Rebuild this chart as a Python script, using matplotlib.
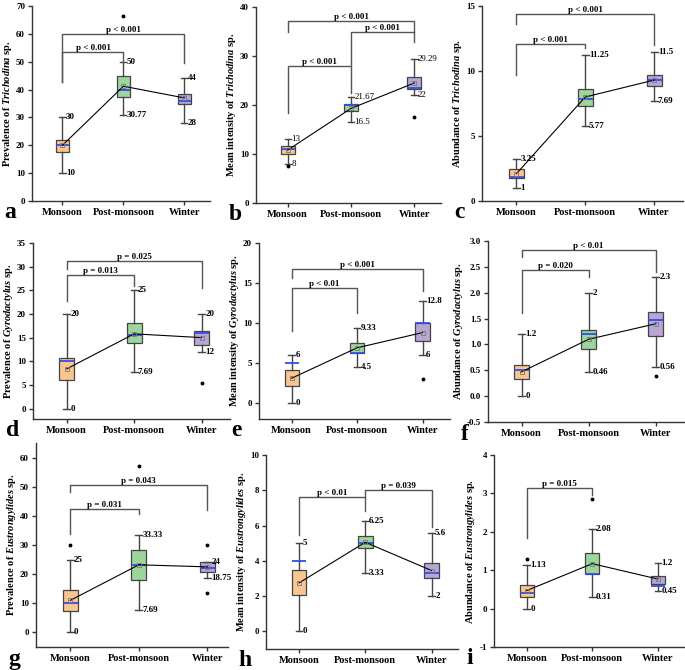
import matplotlib
matplotlib.use("Agg")
from matplotlib import pyplot as plt

plt.rcParams["font.family"] = ["Liberation Serif", "DejaVu Serif"]
plt.rcParams["mathtext.fontset"] = "custom"
plt.rcParams["mathtext.rm"] = "Liberation Serif:bold"
plt.rcParams["mathtext.it"] = "Liberation Serif:bold:italic"
plt.rcParams["axes.unicode_minus"] = False

seasons = ["Monsoon", "Post-monsoon", "Winter"]
box_colors = ["#f9c590", "#9ed59c", "#b7a6d6"]

# each row: whisker low, q1, median, q3, whisker high, mean
a_box = [(10, 17.5, 20, 22, 30, 20), (30.77, 37.5, 40, 45, 50, 41.2), (28, 35, 36, 38.5, 44, 37)]
a_out = [[], [66.5], []]
b_box = [(8, 10, 11, 11.7, 13, 10.8), (16.5, 18.8, 20, 20.2, 21.67, 19.3), (22, 23.3, 23.5, 25.8, 29.29, 24.5)]
b_out = [[7.6], [], [17.5]]
c_box = [(1, 1.8, 1.85, 2.45, 3.25, 2.1), (5.77, 7.3, 7.85, 8.6, 11.25, 8.0), (7.69, 8.85, 9.3, 9.7, 11.5, 9.3)]
c_out = [[], [], []]
d_box = [(0, 6, 10, 10.6, 20, 8.4), (7.69, 13.8, 15.5, 18, 25, 15.8), (12, 13.5, 16, 16.5, 20, 15)]
d_out = [[], [], [5.5]]
e_box = [(0, 2.1, 5, 4.1, 6, 3.1), (4.5, 6.3, 6.3, 7.5, 9.33, 6.9), (6, 7.8, 10, 10, 12.8, 8.8)]
e_out = [[], [], [3]]
f_box = [(0, 0.33, 0.5, 0.6, 1.2, 0.47), (0.46, 0.92, 1.2, 1.28, 2, 1.1), (0.56, 1.17, 1.47, 1.62, 2.3, 1.4)]
f_out = [[], [], [0.38]]
g_box = [(0, 7.3, 10, 14.7, 25, 11), (7.69, 18, 23, 28.3, 33.33, 23.2), (18.75, 20.7, 22, 24, 24, 22.5)]
g_out = [[30], [57], [30, 13.5]]
h_box = [(0, 2.05, 4, 3.5, 5, 2.75), (3.33, 4.75, 5, 5.4, 6.25, 5.05), (2, 3.05, 3.3, 3.9, 5.6, 3.45)]
h_out = [[], [], []]
i_box = [(0, 0.3, 0.4, 0.62, 1.13, 0.47), (0.31, 0.9, 0.9, 1.45, 2.08, 1.17), (0.45, 0.65, 0.6, 0.85, 1.2, 0.77)]
i_out = [[1.3], [2.85], []]

# brackets: (from, to, top, left leg end, right leg end, text)
a_br = [(0, 1, 53.6, 42.8, 50, "p < 0.001"), (0, 2, 60.1, 42.8, 49.5, "p < 0.001")]
b_br = [(0, 1, 27.9, 18.3, 27.9, "p < 0.001"), (1, 2, 34.9, 22.5, 32.8, "p < 0.001"),
        (0, 2, 37.2, 35, 35, "p < 0.001")]
c_br = [(0, 1, 12.1, 9.7, 11.8, "p < 0.001"), (0, 2, 14.4, 13.6, 12, "p < 0.001")]
d_br = [(0, 1, 28.2, 22.7, 26, "p = 0.013"), (0, 2, 31.1, 29.5, 25.4, "p = 0.025")]
e_br = [(0, 1, 14.4, 9, 11.2, "p < 0.01"), (0, 2, 16.75, 15.6, 14, "p < 0.001")]
f_br = [(0, 1, 2.43, 1.6, 2.3, "p = 0.020"), (0, 2, 2.83, 2.69, 2.4, "p < 0.01")]
g_br = [(0, 1, 42.2, 33.8, 40.5, "p = 0.031"), (0, 2, 50.5, 48.2, 42, "p = 0.043")]
h_br = [(0, 1, 7.62, 5.45, 6.83, "p < 0.01"), (1, 2, 8.0, 7.62, 5.9, "p = 0.039")]
i_br = [(0, 1, 3.13, 1.83, 2.96, "p = 0.015")]

W, H = 685, 670
fig = plt.figure(figsize=(W / 100, H / 100), dpi=100)


def panel(rect, box, out, br, ylim, yticks, ylabel, letter, bold_lbl=True, xlim=(0.5, 3.42)):
    l, r, t, b = rect
    ax = fig.add_axes([l / W, 1 - b / H, (r - l) / W, (b - t) / H])
    stats = []
    for row, fl in zip(box, out):
        stats.append(dict(whislo=row[0], q1=row[1], med=row[2], q3=row[3], whishi=row[4], fliers=fl))
    pos = [1, 2, 3]
    bp = ax.bxp(stats, positions=pos, widths=0.22, patch_artist=True, capwidths=0.1,
                boxprops=dict(edgecolor="#444444", linewidth=0.9),
                medianprops=dict(color="#2f4fe6", linewidth=1.3),
                whiskerprops=dict(color="#444444", linewidth=1.0),
                capprops=dict(color="#444444", linewidth=1.0),
                flierprops=dict(marker="o", markersize=1.8, markerfacecolor="black",
                                markeredgecolor="black"))
    for patch, c in zip(bp["boxes"], box_colors):
        patch.set_facecolor(c)
    means = [row[5] for row in box]
    ax.plot(pos, means, color="black", linewidth=0.8, zorder=4)
    ax.plot(pos, means, linestyle="none", marker="s", markersize=2.5, markerfacecolor="none",
            markeredgecolor="#777777", markeredgewidth=0.6, zorder=5)
    w = "bold" if bold_lbl else "normal"
    for p, row in zip(pos, box):
        ax.text(p + 0.055, row[4], f"{row[4]:g}", fontsize=6.5, fontweight=w, va="center", ha="left")
        ax.text(p + 0.055, row[0], f"{row[0]:g}", fontsize=6.5, fontweight=w, va="center", ha="left")
    for i, j, y, yl, yr, txt in br:
        ax.plot([i + 1, i + 1, j + 1, j + 1], [yl, y, y, yr], color="#555555", linewidth=1.0,
                clip_on=False)
        ax.text((i + j) / 2 + 1, y, txt, fontsize=6.5, fontweight="bold", ha="center", va="bottom")
    ax.set_xlim(*xlim)
    ax.set_ylim(*ylim)
    ax.set_yticks(yticks)
    ax.set_xticks(pos)
    ax.set_xticklabels(seasons, fontsize=7.5, fontweight="bold")
    for lab in ax.get_yticklabels():
        lab.set_fontsize(6.5)
        lab.set_fontweight("bold")
    ax.set_ylabel(ylabel, fontsize=7.5, fontweight="bold", labelpad=1.5)
    ax.spines["top"].set_visible(False)
    ax.spines["right"].set_visible(False)
    for s in ["left", "bottom"]:
        ax.spines[s].set_color("#333333")
        ax.spines[s].set_linewidth(1.0)
    ax.tick_params(length=3, width=1.0, color="#333333", pad=2)
    fig.text(l / W - 0.04, 1 - (b + 12) / H, letter, fontsize=17, fontweight="bold", va="center")
    return ax


panel((32, 210, 6, 201), a_box, a_out, a_br, (0, 70), range(0, 71, 10),
      r"Prevalence of $\it{Trichodina}$ sp.", "a")
panel((256, 441, 7, 203), b_box, b_out, b_br, (0, 40), range(0, 41, 10),
      r"Mean intensity of $\it{Trichodina}$ sp.", "b", bold_lbl=False)
panel((482, 683, 6, 201), c_box, c_out, c_br, (0, 15), range(0, 16, 5),
      r"Abundance of $\it{Trichodina}$ sp.", "c")
panel((33, 230, 243, 419), d_box, d_out, d_br, (-2.2, 35), range(0, 36, 5),
      r"Prevalence of $\it{Gyrodactylus}$ sp.", "d")
panel((259, 450, 243, 419), e_box, e_out, e_br, (-2, 20), range(0, 21, 5),
      r"Mean intensity of $\it{Gyrodactylus}$ sp.", "e")
panel((488, 684, 241, 422), f_box, f_out, f_br, (-0.5, 3), [-0.5, 0, 0.5, 1, 1.5, 2, 2.5, 3],
      r"Abundance of $\it{Gyrodactylus}$ sp.", "f")
panel((36, 228, 443, 647), g_box, g_out, g_br, (-5, 65), range(0, 61, 10),
      r"Prevalence of $\it{Eustrongylides}$ sp.", "g", xlim=(0.5, 3.3))
panel((266, 458, 455, 649), h_box, h_out, h_br, (-1, 10), range(0, 11, 2),
      r"Mean intensity of $\it{Eustrongylides}$ sp.", "h", xlim=(0.5, 3.4))
panel((494, 684, 455, 647), i_box, i_out, i_br, (-1, 4), range(-1, 5, 1),
      r"Abundance of $\it{Eustrongylides}$ sp.", "i", xlim=(0.5, 3.4))

fig.axes[5].set_yticklabels(["-0.5", "0.0", "0.5", "1.0", "1.5", "2.0", "2.5", "3.0"],
                            fontsize=6.5, fontweight="bold")

fig.savefig("out.png", dpi=100)
